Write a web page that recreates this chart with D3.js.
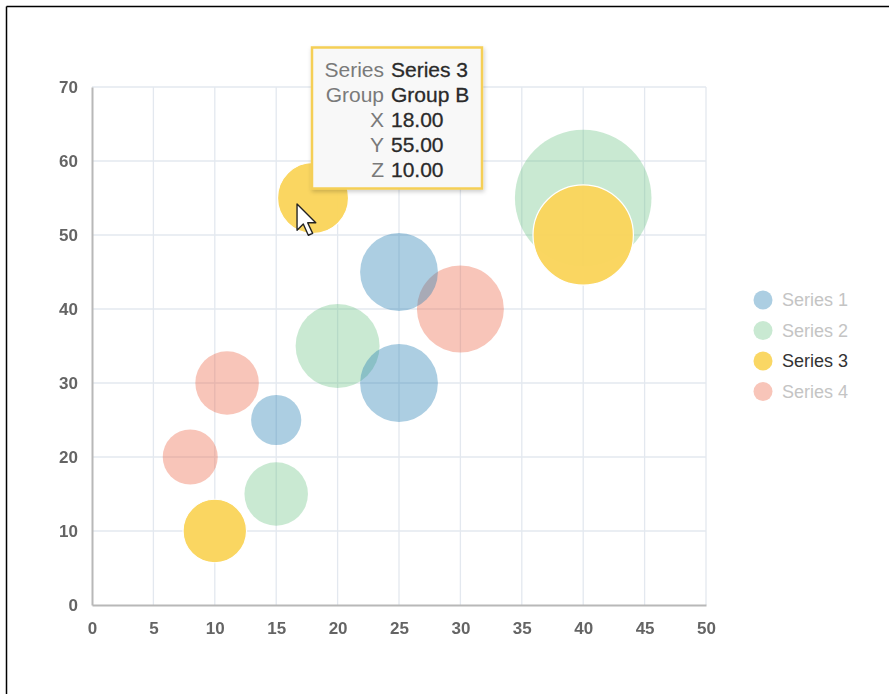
<!DOCTYPE html>
<html><head><meta charset="utf-8">
<script src="https://cdn.jsdelivr.net/npm/d3@7"></script>
<style>
html,body{margin:0;padding:0;background:#fff;}
text{font-family:"Liberation Sans",Arial,sans-serif;}
</style></head>
<body>
<svg id="chart" width="889" height="694"></svg>
<script>
// ---- data ----
const seriesNames = ["Series 1","Series 2","Series 3","Series 4"];
const seriesColors = ["#267db3","#68c182","#fad55c","#ed6647"];
const groups = ["Group A","Group B","Group C"];
const s1 = [{x:15,y:25,z:5},{x:25,y:45,z:12},{x:25,y:30,z:12}];
const s2 = [{x:15,y:15,z:8},{x:20,y:35,z:14},{x:40,y:55,z:37}];
const s3 = [{x:10,y:10,z:8},{x:18,y:55,z:10},{x:40,y:50,z:20}];
const s4 = [{x:8,y:20,z:6},{x:11,y:30,z:8},{x:30,y:40,z:15}];
const xTicks = [0,5,10,15,20,25,30,35,40,45,50];
const yTicks = [0,10,20,30,40,50,60,70];
const highlighted = 2;      // Series 3 hovered
const hoverPoint = 1;       // Group B

const allSeries = [s1,s2,s3,s4];
const svg = d3.select("#chart");

// frame
svg.append("line").attr("x1",6.5).attr("y1",6.5).attr("x2",889).attr("y2",6.5).attr("stroke","#000").attr("stroke-width",1.5);
svg.append("line").attr("x1",6.5).attr("y1",6.5).attr("x2",6.5).attr("y2",694).attr("stroke","#000").attr("stroke-width",1.5);

const x = d3.scaleLinear().domain([0,50]).range([92,706]);
const y = d3.scaleLinear().domain([0,70]).range([605,87]);
const r = d3.scaleSqrt().domain([0,10]).range([0,35.5]);

// grid
const g = svg.append("g");
g.selectAll(".vg").data(xTicks.slice(1)).join("line")
  .attr("x1",d=>x(d)).attr("x2",d=>x(d)).attr("y1",y(70)).attr("y2",y(0))
  .attr("stroke","#e3e8ef").attr("stroke-width",1.3);
g.selectAll(".hg").data(yTicks.slice(1)).join("line")
  .attr("x1",x(0)).attr("x2",x(50)).attr("y1",d=>y(d)).attr("y2",d=>y(d))
  .attr("stroke","#e3e8ef").attr("stroke-width",1.3);

// axes
const xAxis = svg.append("g").attr("transform",`translate(0,${y(0)})`)
  .call(d3.axisBottom(x).tickValues(xTicks).tickSize(0).tickPadding(17));
const yAxis = svg.append("g").attr("transform",`translate(${x(0)},0)`)
  .call(d3.axisLeft(y).tickValues(yTicks).tickSize(0).tickPadding(14));
[xAxis,yAxis].forEach(a=>{
  a.attr("font-size",17);
  a.select(".domain").attr("stroke","#b8b8b8").attr("stroke-width",2);
  a.selectAll("text").attr("font-size",17).attr("fill","#4a4a4a")
   .attr("font-family","'Liberation Sans',Arial,sans-serif").style("font-weight","bold").style("opacity",0.85);
});

// bubbles: flatten, draw largest first, hovered series on top
const pts = [];
allSeries.forEach((s,si)=>s.forEach((p,pi)=>pts.push({...p,si,pi})));
pts.sort((a,b)=>{
  const ha = a.si===highlighted?1:0, hb = b.si===highlighted?1:0;
  if(ha!==hb) return ha-hb;
  return b.z-a.z;
});
svg.append("g").selectAll("circle").data(pts).join("circle")
  .attr("cx",d=>x(d.x)).attr("cy",d=>y(d.y)).attr("r",d=>r(d.z))
  .attr("fill",d=>seriesColors[d.si])
  .attr("fill-opacity",d=>d.si===highlighted?0.97:(d.si===1?0.36:0.38))
  .attr("stroke",d=>d.si===highlighted?"#fff":"none")
  .attr("stroke-width",1.2);

// legend
const lg = svg.append("g");
seriesNames.forEach((n,i)=>{
  const yy = 300 + i*30.5;
  lg.append("circle").attr("cx",763).attr("cy",yy).attr("r",9.5)
    .attr("fill",seriesColors[i]).attr("fill-opacity",i===highlighted?0.95:(i===1?0.36:0.38));
  lg.append("text").attr("x",782).attr("y",yy).attr("dy","0.36em")
    .attr("font-size",18).attr("fill",i===highlighted?"#333":"#c4c4c4").text(n);
});

// tooltip
const hp = s3[hoverPoint];
const tip = svg.append("g");
const defs = svg.append("defs");
const f = defs.append("filter").attr("id","sh").attr("x","-10%").attr("y","-10%").attr("width","130%").attr("height","130%");
f.append("feDropShadow").attr("dx",1).attr("dy",2).attr("stdDeviation",2).attr("flood-color","#000").attr("flood-opacity",0.2);
tip.append("rect").attr("x",312).attr("y",47.5).attr("width",170).attr("height",141)
  .attr("fill","#f8f8f8").attr("stroke","#f5cf56").attr("stroke-width",2.5).attr("filter","url(#sh)");
const rows = [["Series",seriesNames[highlighted]],["Group",groups[hoverPoint]],
  ["X",hp.x.toFixed(2)],["Y",hp.y.toFixed(2)],["Z",hp.z.toFixed(2)]];
rows.forEach((rw,i)=>{
  const yy = 69 + i*25;
  tip.append("text").attr("x",384).attr("y",yy).attr("dy","0.36em").attr("text-anchor","end")
    .attr("font-size",21).attr("fill","#7a7a7a").text(rw[0]);
  tip.append("text").attr("x",391).attr("y",yy).attr("dy","0.36em")
    .attr("font-size",21).attr("fill","#2a2a2a").attr("stroke","#2a2a2a").attr("stroke-width",0.3).text(rw[1]);
});

// mouse cursor
const cx0 = x(hp.x)-16, cy0 = y(hp.y)+6;
svg.append("path")
  .attr("transform",`translate(${cx0},${cy0}) scale(1.25)`)
  .attr("d","M0,0 L0,21 L5,16 L9,25 L12.5,23.5 L8.5,15 L15,15 Z")
  .attr("fill","#fff").attr("stroke","#222").attr("stroke-width",1.1).attr("stroke-linejoin","round");
</script>
</body></html>
